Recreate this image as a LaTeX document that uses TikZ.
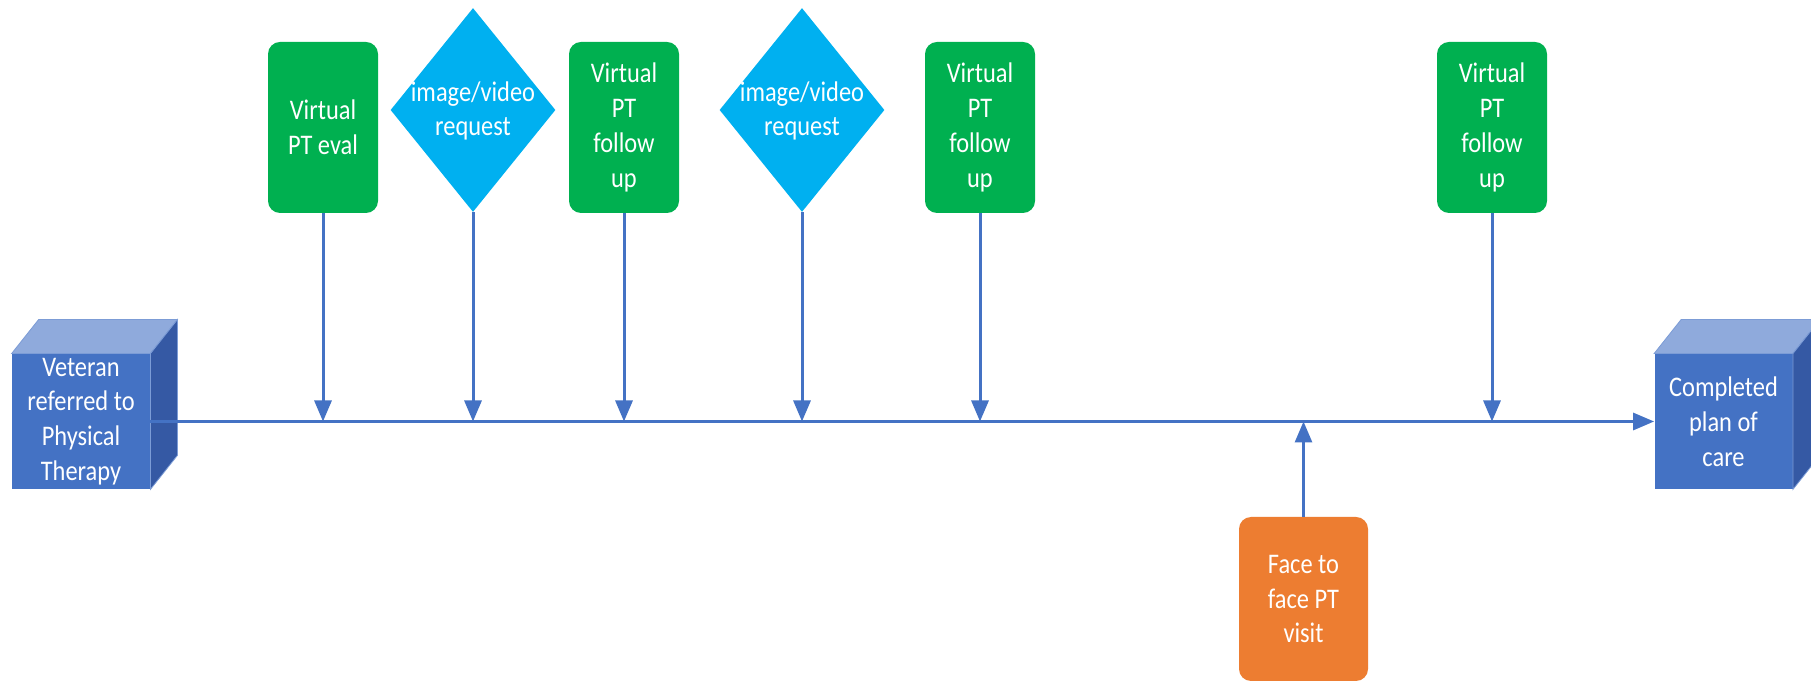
\documentclass[tikz,border=0pt]{standalone}
\usepackage{fontspec}
\usetikzlibrary{arrows.meta,shapes.geometric,calc}
\newfontfamily\calfont{Carlito}[FakeStretch=0.86]
\definecolor{pgreen}{HTML}{00B050}
\definecolor{pcyan}{HTML}{00B0F0}
\definecolor{porange}{HTML}{ED7D31}
\definecolor{pblue}{HTML}{4472C4}
\definecolor{pbluetop}{HTML}{8FAADC}
\definecolor{pblueside}{HTML}{3559A4}
\tikzset{
  lbl/.style={text=white, align=center, inner sep=0pt,
    font={\calfont\fontsize{14.2}{17.4}\selectfont}},
  greenbox/.style={lbl, fill=pgreen, rounded corners=6pt,
    minimum width=55pt, minimum height=85.5pt},
  orangebox/.style={lbl, fill=porange, rounded corners=6pt,
    minimum width=64.5pt, minimum height=82pt},
  diamondbox/.style={diamond, fill=pcyan, inner sep=0pt,
    minimum width=82.5pt, minimum height=102pt},
  cubefront/.style={lbl, fill=pblue, minimum width=69pt, minimum height=67.5pt},
  cubeedge/.style={draw=pblue!70!white, line width=0.4pt},
  flow/.style={draw=pblue, line width=1.5pt,
    -{Triangle[width=8.5pt,length=10.5pt]}},
}
\begin{document}
\begin{tikzpicture}[x=0.5pt,y=-0.5pt]
  \clip (0,0) rectangle (1811,683);
  \fill[white] (0,0) rectangle (1811,683);

  % start and end cubes
  \node[cubefront] (vet) at (81,421.5) {Veteran\\referred to\\Physical\\Therapy};
  \node[cubefront] (plan) at (1723.5,421.5) {Completed\\plan of\\care};
  \foreach \c in {vet,plan}{
    \filldraw[fill=pbluetop, cubeedge] (\c.north west) -- ++(27,-34)
      -- ([shift={(27,-34)}]\c.north east) -- (\c.north east) -- cycle;
    \filldraw[fill=pblueside, cubeedge] (\c.north east) -- ++(27,-34)
      -- ([shift={(27,-34)}]\c.south east) -- (\c.south east) -- cycle;
  }

  % events above the time line
  \node[greenbox] (eval) at (323,127.5) {Virtual\\PT eval};
  \node[diamondbox] (req1) at (473,110) {};
  \node[lbl] (req1t) at (473,111) {image/video\\request};
  \node[greenbox] (fu1) at (624,127.5) {Virtual\\PT\\follow\\up};
  \node[diamondbox] (req2) at (802,110) {};
  \node[lbl] (req2t) at (802,111) {image/video\\request};
  \node[greenbox] (fu2) at (980,127.5) {Virtual\\PT\\follow\\up};
  \node[greenbox] (fu3) at (1492,127.5) {Virtual\\PT\\follow\\up};

  % event below the time line
  \node[orangebox] (f2f) at (1303.5,599) {Face to\\face PT\\visit};

  % time line
  \draw[flow] (vet.east) -- (plan.west);

  % connectors onto the time line
  \foreach \n in {eval,req1,fu1,req2,fu2,fu3}{
    \draw[flow] (\n.south) -- (\n.south |- vet.east);
  }
  \draw[flow] (f2f.north) -- (f2f.north |- vet.east);
\end{tikzpicture}
\end{document}
